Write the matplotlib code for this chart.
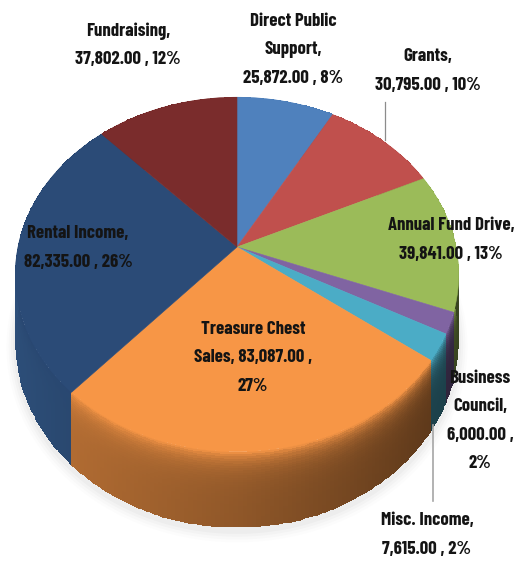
import numpy as np
import matplotlib
matplotlib.use("Agg")
import matplotlib.pyplot as plt
from matplotlib.colors import to_rgb

# slices, clockwise from 12 o'clock
categories = ["Direct Public Support", "Grants", "Annual Fund Drive", "Business Council",
              "Misc. Income", "Treasure Chest Sales", "Rental Income", "Fundraising"]
values = [25872, 30795, 39841, 6000, 7615, 83087, 82335, 37802]
top_colors = ["#4f81bd", "#c0504d", "#9bbb59", "#8064a2", "#4bacc6", "#f79646", "#2b4b77", "#7a2c2c"]
wall_colors = ["#4f81bd", "#c0504d", "#9bbb59", "#8064a2", "#4bacc6", "#f79646", "#3a659c", "#7a2c2c"]

# label text with line breaks as in the picture
label_text = ["Direct Public\nSupport,\n{v} , {p}%", "Grants,\n{v} , {p}%", "Annual Fund Drive,\n{v} , {p}%",
              "Business\nCouncil,\n{v} ,\n{p}%", "Misc. Income,\n{v} , {p}%",
              "Treasure Chest\nSales, {v} ,\n{p}%", "Rental Income,\n{v} , {p}%", "Fundraising,\n{v} , {p}%"]
label_x = [293, 428, 451, 480, 427, 253, 78, 128]
label_y = [50, 71, 240, 421, 535, 358, 248, 45]

# pie geometry in image pixels
CX, CY = 237, 247
RX, RY = 219, 173
PERSP = 0.155
DEPTH = 64


def project(t, r=1.0, drop=0.0):
    # t is degrees clockwise from the top
    u = r * np.sin(np.radians(t))
    v = r * np.cos(np.radians(t))
    w = 1 + PERSP * v
    return CX + RX * u / w, CY - RY * v / w + drop / w


fig = plt.figure(figsize=(5.26, 5.62), dpi=100)
ax = fig.add_axes([0, 0, 1, 1])
ax.set_xlim(0, 526)
ax.set_ylim(562, 0)
ax.axis("off")

total = sum(values)
edges = np.concatenate([[0], np.cumsum(values)]) / total * 360

# soft shadow under the pie
tt = np.linspace(0, 360, 361)
for grow, a in zip([1.04, 1.03, 1.02, 1.01], [0.02, 0.03, 0.04, 0.05]):
    sx, sy = project(tt, 1.0, DEPTH + 3)
    ax.fill(CX + (sx - CX) * grow, CY + (sy - CY) * grow, color="#808080", alpha=a, lw=0, zorder=1)

# side wall, one mesh per slice, a light rim fading into the shaded colour
depth_steps = np.linspace(0, 1, 33)
for i in range(len(values)):
    n = max(2, int(edges[i + 1] - edges[i]) + 1)
    t = np.linspace(edges[i], edges[i + 1], n)
    X = np.array([project(t, 1.0, DEPTH * d)[0] for d in depth_steps])
    Y = np.array([project(t, 1.0, DEPTH * d)[1] for d in depth_steps])
    tm = (t[:-1] + t[1:]) / 2
    shade = np.interp(np.sin(np.radians(tm)), [-1, -0.7, 0.0, 0.8, 1], [0.78, 0.72, 0.58, 0.38, 0.36])
    base = np.array(to_rgb(wall_colors[i]))
    rim = np.array(to_rgb(top_colors[i]))
    C = np.zeros((len(depth_steps) - 1, n - 1, 3))
    for row in range(len(depth_steps) - 1):
        f = 1 - np.exp(-row / 5)
        C[row] = (1 - f) * rim * 0.95 + f * (shade[:, None] * base)
    order = 2 - np.cos(np.radians(tm.mean()))
    ax.pcolormesh(X, Y, C, shading="flat", zorder=order, antialiased=False, linewidth=0)

# top face
for i in range(len(values)):
    t = np.linspace(edges[i], edges[i + 1], 120)
    x, y = project(t)
    ax.fill(np.r_[CX, x], np.r_[CY, y], color=top_colors[i], lw=0.4, zorder=5)

# leader lines
ax.plot([385, 385], [102, 140], color="#8c8c8c", lw=0.9, zorder=6)
ax.plot([433, 433], [425, 501], color="#a6a6a6", lw=1.2, zorder=6)

for i in range(len(values)):
    pct = round(values[i] / total * 100)
    txt = label_text[i].format(v=f"{values[i]:,.2f}", p=pct)
    ax.text(label_x[i], label_y[i], txt, ha="center", va="center", multialignment="center",
            family=["Barlow Condensed", "Liberation Sans"], fontweight=700, fontsize=13.5,
            linespacing=1.88, color="#141414", zorder=8)

fig.savefig("out.png", dpi=100)
